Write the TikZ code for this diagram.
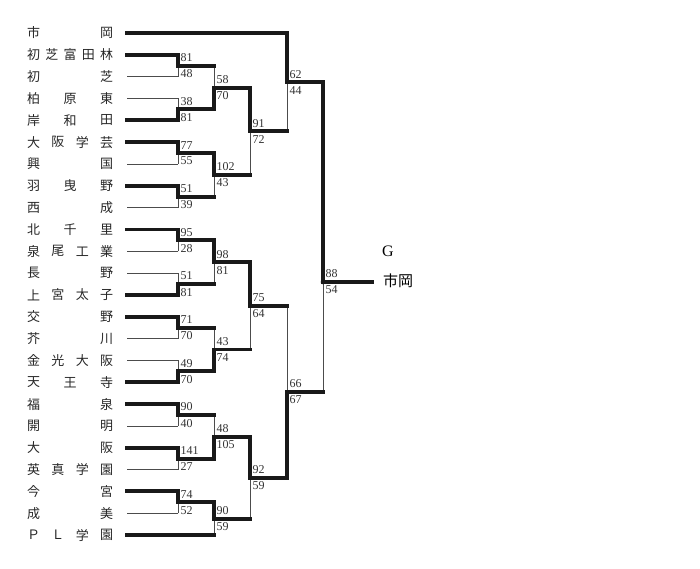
\documentclass[tikz,border=0pt]{standalone}
\usepackage{fontspec}
\setmainfont{Liberation Serif}
\newfontfamily\jpfont{Noto Sans CJK JP}
\usetikzlibrary{calc}

\tikzset{
  win/.style={line width=3.9pt, line cap=rect, black!90},
  lose/.style={line width=0.9pt, black!70},
  score/.style={font=\fontsize{12}{13}\selectfont, text=black!80, inner xsep=2.4pt, inner ysep=3.8pt},
  school/.style={font=\jpfont\fontsize{13}{13}\selectfont, text=black!85, inner sep=0pt},
}

\begin{document}
\begin{tikzpicture}[x=1pt, y=-1pt]
\useasboundingbox (0,0) rectangle (700,568);

% 校名
\foreach \i/\n/\w in {0/2/{市,岡}, 1/5/{初,芝,富,田,林}, 2/2/{初,芝}, 3/3/{柏,原,東},
    4/3/{岸,和,田}, 5/4/{大,阪,学,芸}, 6/2/{興,国}, 7/3/{羽,曳,野}, 8/2/{西,成},
    9/3/{北,千,里}, 10/4/{泉,尾,工,業}, 11/2/{長,野}, 12/4/{上,宮,太,子},
    13/2/{交,野}, 14/2/{芥,川}, 15/4/{金,光,大,阪}, 16/3/{天,王,寺}, 17/2/{福,泉},
    18/2/{開,明}, 19/2/{大,阪}, 20/4/{英,真,学,園}, 21/2/{今,宮}, 22/2/{成,美},
    23/4/{Ｐ,Ｌ,学,園}} {
  \coordinate (s\i) at (127, {33+21.83*\i});
  \foreach \c [count=\k from 0] in \w
    \node[school] (n\i-\k) at ({33.5+\k*73.2/(\n-1)}, {33+21.83*\i}) {\c};
}

% 对阵点
\foreach \m/\u/\v/\xx in {a1/s1/s2/178, a2/s3/s4/178, a3/s5/s6/178, a4/s7/s8/178,
    a5/s9/s10/178, a6/s11/s12/178, a7/s13/s14/178, a8/s15/s16/178, a9/s17/s18/178,
    a10/s19/s20/178, a11/s21/s22/178,
    b1/a1/a2/214, b2/a3/a4/214, b3/a5/a6/214, b4/a7/a8/214, b5/a9/a10/214, b6/a11/s23/214,
    c1/b1/b2/250, c2/b3/b4/250, c3/b5/b6/250,
    d1/s0/c1/287, d2/c2/c3/287}
  \path let \p1=($(\u)!.5!(\v)$) in coordinate (\m) at (\xx pt,\y1);
\coordinate (f) at (323,282);
\coordinate (fend) at (372,282);

% 胜者粗线, 败者细线
\foreach \m/\w/\l/\f in {a1/s1/s2/lose, a2/s4/s3/lose, a3/s5/s6/lose, a4/s7/s8/lose,
    a5/s9/s10/lose, a6/s12/s11/lose, a7/s13/s14/lose, a8/s16/s15/lose, a9/s17/s18/lose,
    a10/s19/s20/lose, a11/s21/s22/lose,
    b1/a2/a1/win, b2/a3/a4/win, b3/a5/a6/win, b4/a8/a7/win, b5/a10/a9/win, b6/a11/s23/win,
    c1/b1/b2/win, c2/b3/b4/win, c3/b5/b6/win,
    d1/s0/c1/win, d2/c3/c2/win} {
  \draw[lose] (\l -| \m) -- (\m);
  \draw[\f] (\l) -- (\l -| \m);
  \draw[win] (\w) -| (\m);
}

% 决赛
\draw[lose] (d2 -| f) -- (f);
\draw[win] (d2) -- (d2 -| f);
\draw[win] (d1) -| (f) -- (fend);
\fill[black!90] (f) circle (2.3);

% 比分
\foreach \m/\hi/\lo in {a1/81/48, a2/38/81, a3/77/55, a4/51/39, a5/95/28, a6/51/81,
    a7/71/70, a8/49/70, a9/90/40, a10/141/27, a11/74/52,
    b1/58/70, b2/102/43, b3/98/81, b4/43/74, b5/48/105, b6/90/59,
    c1/91/72, c2/75/64, c3/92/59, d1/62/44, d2/66/67, f/88/54} {
  \node[score, anchor=south west] (\m-hi) at (\m) {\hi};
  \node[score, anchor=north west] (\m-lo) at (\m) {\lo};
}

% 优胜
\node[font=\fontsize{16}{16}\selectfont] (grp) at (388,251) {G};
\node[font=\jpfont\fontsize{15}{15}\selectfont] (champ) at (398,281) {市岡};
\end{tikzpicture}
\end{document}
